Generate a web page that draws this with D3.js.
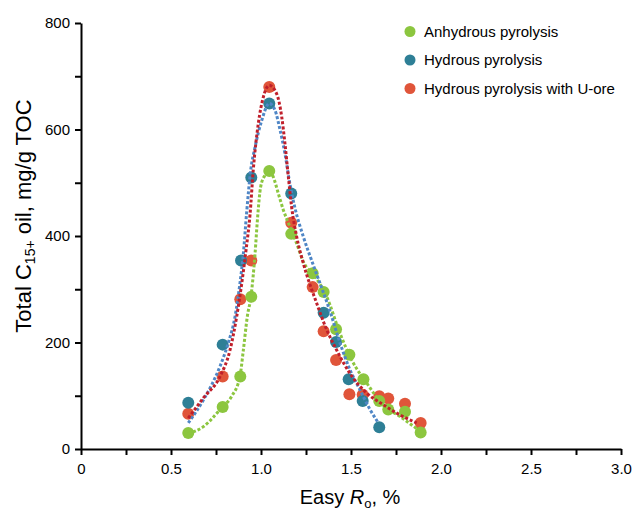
<!DOCTYPE html>
<html>
<head>
<meta charset="utf-8">
<script src="https://cdn.jsdelivr.net/npm/d3@7"></script>
<style>
  body { margin: 0; background: #fff; }
  svg { font-family: "Liberation Sans", Arial, sans-serif; }
  .axis path, .axis line { stroke: #000; stroke-width: 2; }
  .axis text { font-size: 15px; fill: #000; }
</style>
</head>
<body>
<svg id="chart" width="633" height="510"></svg>
<script>
// measured points (Easy Ro, %; total C15+ oil, mg/g TOC)
var anhydrousRo  = [0.596, 0.787, 0.885, 0.946, 1.046, 1.168, 1.287, 1.348, 1.417, 1.491, 1.569, 1.657, 1.707, 1.800, 1.887];
var anhydrousOil = [30, 79, 136, 286, 522, 404, 330, 295, 225, 177, 131, 90, 74, 70, 31];

var hydrousRo  = [0.596, 0.787, 0.889, 0.946, 1.046, 1.168, 1.348, 1.417, 1.487, 1.565, 1.657];
var hydrousOil = [87, 196, 354, 510, 649, 480, 256, 201, 131, 90, 41];

var uoreRo  = [0.596, 0.787, 0.885, 0.946, 1.046, 1.168, 1.287, 1.348, 1.417, 1.491, 1.565, 1.657, 1.707, 1.800, 1.887];
var uoreOil = [66, 136, 281, 354, 680, 425, 304, 221, 167, 103, 102, 99, 95, 85, 49];

// fitted curves
var anhydrousFitRo  = [0.596, 0.68, 0.78, 0.837, 0.883, 0.902, 0.924, 0.944, 0.967, 0.98, 0.998, 1.022, 1.046, 1.068, 1.096, 1.124, 1.161, 1.198, 1.235, 1.30, 1.365, 1.439, 1.504, 1.587, 1.68, 1.772, 1.874];
var anhydrousFitOil = [29, 42, 77, 99, 136, 186, 249, 286, 367, 430, 492, 514, 522, 511, 480, 449, 417, 386, 352, 324, 286, 217, 167, 124, 82, 61, 36];

var hydrousFitRo  = [0.596, 0.68, 0.772, 0.818, 0.856, 0.883, 0.902, 0.92, 0.943, 0.967, 1.004, 1.046, 1.078, 1.106, 1.133, 1.161, 1.189, 1.235, 1.291, 1.328, 1.383, 1.439, 1.494, 1.55, 1.606, 1.652];
var hydrousFitOil = [49, 92, 155, 199, 249, 311, 367, 443, 524, 567, 617, 649, 636, 599, 555, 497, 452, 399, 345, 311, 259, 199, 149, 111, 74, 49];

var uoreFitRo  = [0.596, 0.68, 0.772, 0.828, 0.865, 0.893, 0.917, 0.939, 0.957, 0.985, 1.013, 1.046, 1.087, 1.115, 1.133, 1.152, 1.17, 1.198, 1.235, 1.309, 1.365, 1.42, 1.494, 1.587, 1.68, 1.772, 1.865];
var uoreFitOil = [58, 96, 136, 186, 249, 311, 374, 440, 524, 611, 661, 683, 667, 624, 574, 511, 455, 399, 349, 274, 224, 186, 142, 105, 83, 64, 49];

var xTicks = [0, 0.5, 1.0, 1.5, 2.0, 2.5, 3.0];
var yTicks = [0, 200, 400, 600, 800];

var seriesNames = ['Anhydrous pyrolysis', 'Hydrous pyrolysis', 'Hydrous pyrolysis with U-ore'];
var dotColors  = ['#8cc63f', '#2e7f96', '#e0553a'];
var lineColors = ['#8cc63f', '#4f86c6', '#c01f2b'];

var series = [
  { name: seriesNames[0], ro: anhydrousRo, oil: anhydrousOil, fitRo: anhydrousFitRo, fitOil: anhydrousFitOil, dot: dotColors[0], line: lineColors[0] },
  { name: seriesNames[1], ro: hydrousRo, oil: hydrousOil, fitRo: hydrousFitRo, fitOil: hydrousFitOil, dot: dotColors[1], line: lineColors[1] },
  { name: seriesNames[2], ro: uoreRo, oil: uoreOil, fitRo: uoreFitRo, fitOil: uoreFitOil, dot: dotColors[2], line: lineColors[2] }
];

var margin = { top: 23, right: 12, bottom: 60, left: 81 };
var width = 621 - margin.left;
var height = 449 - margin.top;

var svg = d3.select('#chart');
var g = svg.append('g')
    .attr('transform', 'translate(' + margin.left + ',' + margin.top + ')');

var x = d3.scaleLinear().domain([0, 3]).range([0, width]);
var y = d3.scaleLinear().domain([0, 800]).range([height, 0]);

// minor ticks first, then labelled ticks
g.append('g')
    .attr('class', 'axis')
    .attr('transform', 'translate(0,' + height + ')')
    .call(d3.axisBottom(x).tickValues(d3.range(0.25, 3, 0.5)).tickSize(6).tickFormat(''))
    .call(function(s) { s.select('.domain').remove(); });

g.append('g')
    .attr('class', 'axis')
    .call(d3.axisLeft(y).tickValues(d3.range(100, 800, 200)).tickSize(6).tickFormat(''))
    .call(function(s) { s.select('.domain').remove(); });

g.append('g')
    .attr('class', 'axis axis--x')
    .attr('transform', 'translate(0,' + height + ')')
    .call(d3.axisBottom(x).tickValues(xTicks).tickSize(6).tickSizeOuter(0).tickPadding(8)
      .tickFormat(function(d) { return d === 0 ? '0' : d3.format('.1f')(d); }));

g.append('g')
    .attr('class', 'axis axis--y')
    .call(d3.axisLeft(y).tickValues(yTicks).tickSize(6).tickSizeOuter(0).tickPadding(5));

// points (red under green under blue)
var drawOrder = [series[2], series[0], series[1]];
drawOrder.forEach(function(s) {
  g.append('g').selectAll('circle')
      .data(s.ro.map(function(r, i) { return { ro: r, oil: s.oil[i] }; }))
      .enter().append('circle')
        .attr('cx', function(d) { return x(d.ro); })
        .attr('cy', function(d) { return y(d.oil); })
        .attr('r', 6)
        .attr('fill', s.dot);
});

// dotted fit curves
var line = d3.line()
    .curve(d3.curveMonotoneX)
    .x(function(d) { return x(d.ro); })
    .y(function(d) { return y(d.oil); });

series.forEach(function(s) {
  g.append('path')
      .datum(s.fitRo.map(function(r, i) { return { ro: r, oil: s.fitOil[i] }; }))
      .attr('fill', 'none')
      .attr('stroke', s.line)
      .attr('stroke-width', 3)
      .attr('stroke-dasharray', '3,2')
      .attr('d', line);
});

// legend
var legend = svg.append('g').selectAll('g')
    .data(series)
    .enter().append('g')
      .attr('transform', function(d, i) { return 'translate(410,' + (31.5 + i * 28.5) + ')'; });

legend.append('circle')
    .attr('r', 5.5)
    .attr('fill', function(d) { return d.dot; });

legend.append('text')
    .attr('x', 14)
    .attr('dy', '0.35em')
    .style('font-size', '15px')
    .text(function(d) { return d.name; });

// axis titles
var xTitle = svg.append('text')
    .attr('x', 350)
    .attr('y', 504)
    .attr('text-anchor', 'middle')
    .style('font-size', '20px');
xTitle.append('tspan').text('Easy ');
xTitle.append('tspan').style('font-style', 'italic').text('R');
xTitle.append('tspan').attr('dy', 4).style('font-size', '13px').text('o');
xTitle.append('tspan').attr('dy', -4).text(', %');

var yTitle = svg.append('text')
    .attr('transform', 'translate(31,216) rotate(-90)')
    .attr('text-anchor', 'middle')
    .style('font-size', '22px');
yTitle.append('tspan').text('Total C');
yTitle.append('tspan').attr('dy', 4).style('font-size', '14px').text('15+');
yTitle.append('tspan').attr('dy', -4).text(' oil, mg/g TOC');
</script>
</body>
</html>
